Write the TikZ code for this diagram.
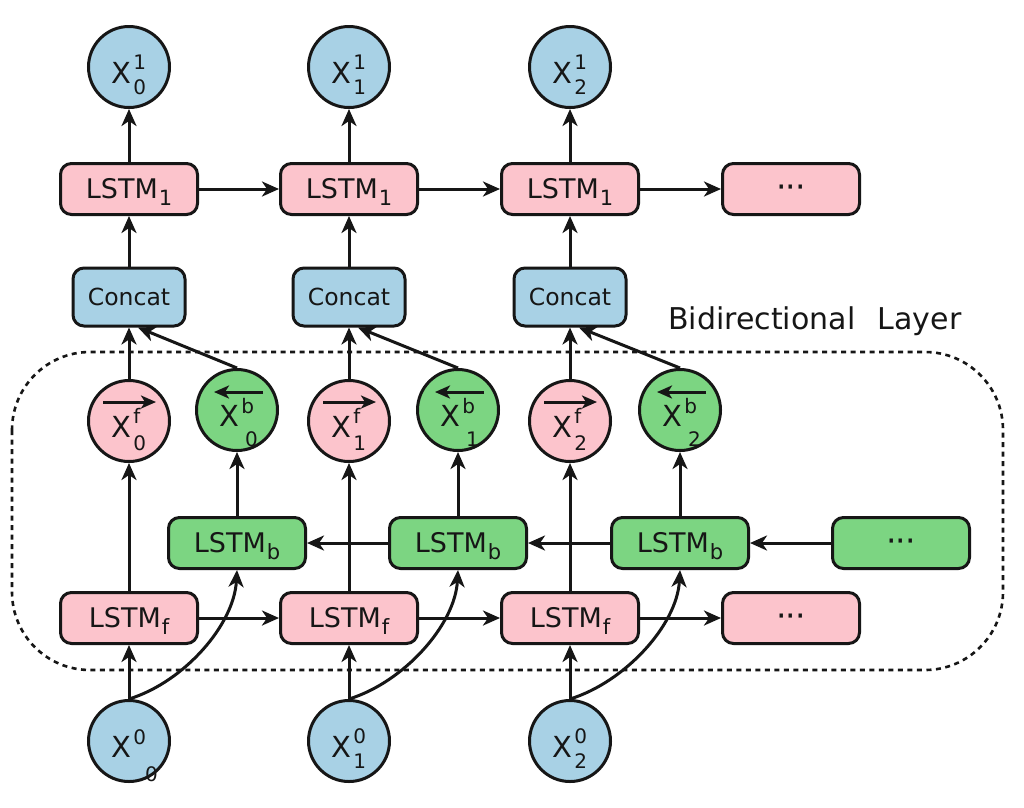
\documentclass[tikz,border=0pt]{standalone}
\usepackage{amsmath}
\usepackage{fontspec}
\setmainfont{DejaVu Sans}
\usetikzlibrary{arrows.meta}
\definecolor{pinkf}{RGB}{252,196,204}
\definecolor{bluef}{RGB}{168,209,229}
\definecolor{greenf}{RGB}{124,213,130}
\definecolor{ink}{RGB}{22,22,22}
\newcommand\scr{\fontsize{20}{22}\selectfont}
% X with stacked sup/sub
\newcommand\xs[4]{X\kern1.5pt\rlap{\raisebox{#3}{\scr #1}}\raisebox{-#4}{\scr #2}}
% X with sup and a displaced sub
\newcommand\xw[4]{X\kern1.5pt\raisebox{13pt}{\scr #1}\rlap{\kern#3\raisebox{-#4}{\scr #2}}}
\newcommand\lo[1]{\kern1pt\raisebox{-7pt}{\fontsize{21}{22}\selectfont #1}}
\newcommand\dotsx{{\fontsize{33}{33}\selectfont ·\kern-1pt·\kern-1pt·}}
\begin{document}
\begin{tikzpicture}[x=1pt,y=-1pt,
  lw/.style={line width=3pt},
  box/.style={draw=ink, lw, rounded corners=11pt, minimum width=137pt, minimum height=51pt,
    inner sep=0pt, text height=19pt, text depth=1pt, text=ink, font=\fontsize{27}{30}\selectfont},
  fbox/.style={box, fill=pinkf},
  gbox/.style={box, fill=greenf},
  cbox/.style={draw=ink, lw, rounded corners=11pt, fill=bluef, minimum width=112pt, minimum height=58pt,
    inner sep=0pt, text=ink, font=\fontsize{23.5}{28}\selectfont},
  circ/.style={circle, draw=ink, lw, minimum size=81pt, inner sep=0pt, text height=32pt, text depth=0pt,
    text=ink, font=\fontsize{29}{32}\selectfont},
  xin/.style={circ, fill=bluef},
  xfc/.style={circ, fill=pinkf, path picture={\draw[ink, lw, -{Stealth[length=15pt,width=13pt,inset=4pt]}]
      ([xshift=-26pt,yshift=19pt]path picture bounding box.center) --
      ([xshift=27pt,yshift=19pt]path picture bounding box.center);}},
  xbc/.style={circ, fill=greenf, path picture={\draw[ink, lw, -{Stealth[length=15pt,width=13pt,inset=4pt]}]
      ([xshift=26pt,yshift=18pt]path picture bounding box.center) --
      ([xshift=-23pt,yshift=18pt]path picture bounding box.center);}},
  arr/.style={draw=ink, lw, -{Stealth[length=17pt,width=15pt,inset=5pt]}},
  dashbox/.style={draw=ink, line width=2.6pt, dash pattern=on 5pt off 4.5pt, rounded corners=78pt},
]
\useasboundingbox (0,0) rectangle (1024,807);
\fill[white] (0,0) rectangle (1024,807);

% bidirectional layer frame
\draw[dashbox] (12,352) rectangle (1003,670);
\node[anchor=base west, inner sep=0pt, text=ink, font=\fontsize{30}{34}\selectfont] (bl) at (668,329) {Bidirectional\hspace{0.75em}Layer};

% output circles
\node[xin] (o0) at (129,67) {\xs{1}{0}{14pt}{11pt}};
\node[xin] (o1) at (349,67) {\xs{1}{1}{14pt}{11pt}};
\node[xin] (o2) at (570,67) {\xs{1}{2}{14pt}{11pt}};

% LSTM_1 row
\node[fbox] (m0) at (129,189) {LSTM\lo{1}};
\node[fbox] (m1) at (349,189) {LSTM\lo{1}};
\node[fbox] (m2) at (570,189) {LSTM\lo{1}};
\node[fbox] (md) at (791,189) {\dotsx};

% Concat row
\node[cbox] (c0) at (129,297) {Concat};
\node[cbox] (c1) at (349,297) {Concat};
\node[cbox] (c2) at (570,297) {Concat};

% forward / backward states
\node[xfc] (f0) at (129,421) {\xs{f}{0}{14pt}{13pt}};
\node[xfc] (f1) at (349,421) {\xs{f}{1}{14pt}{13pt}};
\node[xfc] (f2) at (570,421) {\xs{f}{2}{14pt}{13pt}};
\node[xbc] (b0) at (237,410) {\xw{b}{0}{-9pt}{20pt}};
\node[xbc] (b1) at (458,410) {\xw{b}{1}{-9pt}{20pt}};
\node[xbc] (b2) at (680,410) {\xw{b}{2}{-9pt}{20pt}};

% LSTM_b row
\node[gbox] (lb0) at (237,543) {LSTM\lo{b}};
\node[gbox] (lb1) at (458,543) {LSTM\lo{b}};
\node[gbox] (lb2) at (680,543) {LSTM\lo{b}};
\node[gbox] (lbd) at (901,543) {\dotsx};

% LSTM_f row
\node[fbox] (lf0) at (129,618) {LSTM\lo{f}};
\node[fbox] (lf1) at (349,618) {LSTM\lo{f}};
\node[fbox] (lf2) at (570,618) {LSTM\lo{f}};
\node[fbox] (lfd) at (791,618) {\dotsx};

% inputs
\node[xin] (i0) at (129,741) {\xw{0}{0}{-1pt}{24pt}};
\node[xin] (i1) at (349,741) {\xs{0}{1}{14pt}{11pt}};
\node[xin] (i2) at (570,741) {\xs{0}{2}{14pt}{11pt}};

% connectors
\foreach \k in {0,1,2}{
  \draw[arr] (i\k.north) -- (lf\k.south);
  \draw[arr] (i\k.north) .. controls ([shift={(55pt,17pt)}]i\k.north) and ([shift={(-3pt,-55pt)}]lb\k.south) .. (lb\k.south);
  \draw[arr] (lf\k.north) -- (f\k.south);
  \draw[arr] (lb\k.north) -- (b\k.south);
  \draw[arr] (f\k.north) -- (c\k.south);
  \draw[arr] (b\k.north) -- ([xshift=9pt]c\k.south);
  \draw[arr] (c\k.north) -- (m\k.south);
  \draw[arr] (m\k.north) -- (o\k.south);
}
\draw[arr] (lf0) -- (lf1);
\draw[arr] (lf1) -- (lf2);
\draw[arr] (lf2) -- (lfd);
\draw[arr] (lbd) -- (lb2);
\draw[arr] (lb2) -- (lb1);
\draw[arr] (lb1) -- (lb0);
\draw[arr] (m0) -- (m1);
\draw[arr] (m1) -- (m2);
\draw[arr] (m2) -- (md);
\end{tikzpicture}
\end{document}
